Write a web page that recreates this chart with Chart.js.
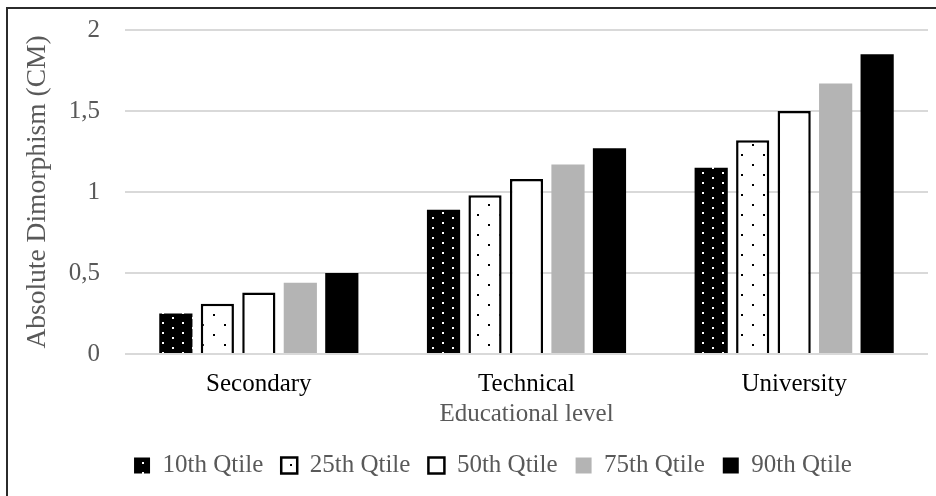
<!DOCTYPE html>
<html>
<head>
<meta charset="utf-8">
<script src="https://cdn.jsdelivr.net/npm/chart.js@4.4.1/dist/chart.umd.min.js"></script>
<style>
  html, body { margin: 0; padding: 0; background: #fff; }
  #wrap { position: relative; width: 936px; height: 496px; overflow: hidden; }
  #frame { position: absolute; left: 6px; top: 7px; width: 960px; height: 520px;
           border-top: 2px solid #2b2b2b; border-left: 2px solid #2b2b2b; }
  canvas { position: absolute; left: 0; top: 0; }
  #probe { position: absolute; left: -999px; font-family: 'Liberation Serif'; font-size: 25px; }
</style>
</head>
<body>
<div id="wrap">
  <div id="frame"></div>
  <canvas id="myChart" width="936" height="496"></canvas>
</div>
<span id="probe">Secondary</span>
<script>
// chart data
const categories = ['Secondary', 'Technical', 'University'];
const seriesNames = ['10th Qtile', '25th Qtile', '50th Qtile', '75th Qtile', '90th Qtile'];
const p10 = [0.25, 0.89, 1.15];
const p25 = [0.31, 0.98, 1.32];
const p50 = [0.38, 1.08, 1.50];
const p75 = [0.44, 1.17, 1.67];
const p90 = [0.50, 1.27, 1.85];
const yTickLabels = ['0', '0,5', '1', '1,5', '2'];

const serif = "'Liberation Serif', 'Times New Roman', serif";

// dotted fills like the Excel pattern fills
function dotPattern(bg, dot, w, h, dots) {
    const c = document.createElement('canvas');
    c.width = w;
    c.height = h;
    const g = c.getContext('2d');
    g.fillStyle = bg;
    g.fillRect(0, 0, w, h);
    g.fillStyle = dot;
    dots.forEach(d => g.fillRect(d[0], d[1], 2, 2));
    return g.createPattern(c, 'repeat');
}

// legend sits a little right of centre in the original
const shiftLegend = {
    id: 'shiftLegend',
    afterLayout(chart) {
        chart.legend.left += 19;
        chart.legend.right += 19;
    }
};

function drawChart() {
    const ctx = document.getElementById('myChart').getContext('2d');
    const darkDots = dotPattern('#000000', '#ffffff', 20, 10, [[2, 2], [12, 7]]);
    const lightDots = dotPattern('#ffffff', '#000000', 22, 20, [[4, 4], [15, 14]]);

    new Chart(ctx, {
        type: 'bar',
        data: {
            labels: categories,
            datasets: [
                { label: seriesNames[0], data: p10, backgroundColor: darkDots, borderColor: '#000000', borderWidth: 0 },
                { label: seriesNames[1], data: p25, backgroundColor: lightDots, borderColor: '#000000', borderWidth: 2.5 },
                { label: seriesNames[2], data: p50, backgroundColor: '#ffffff', borderColor: '#000000', borderWidth: 2.5 },
                { label: seriesNames[3], data: p75, backgroundColor: '#b4b4b4', borderColor: '#b4b4b4', borderWidth: 0 },
                { label: seriesNames[4], data: p90, backgroundColor: '#000000', borderColor: '#000000', borderWidth: 0 }
            ]
        },
        plugins: [shiftLegend],
        options: {
            responsive: false,
            animation: false,
            layout: { padding: { left: 20, right: 8, top: 30, bottom: 8 } },
            datasets: { bar: { categoryPercentage: 0.775, barPercentage: 0.8 } },
            plugins: {
                tooltip: { enabled: false },
                legend: {
                    position: 'bottom',
                    labels: {
                        boxWidth: 16,
                        boxHeight: 16,
                        padding: 18,
                        color: '#595959',
                        font: { family: serif, size: 25 }
                    }
                }
            },
            scales: {
                x: {
                    grid: { display: false },
                    border: { display: false },
                    ticks: { color: '#000000', padding: 7, font: { family: serif, size: 25 } },
                    title: {
                        display: true,
                        text: 'Educational level',
                        color: '#595959',
                        padding: { top: 0, bottom: 6 },
                        font: { family: serif, size: 25 }
                    },
                    afterFit: function(scale) { scale.height = 81; }
                },
                y: {
                    min: 0,
                    max: 2,
                    grid: { color: '#d9d9d9', lineWidth: 2, drawTicks: false },
                    border: { display: false },
                    ticks: {
                        stepSize: 0.5,
                        padding: 25,
                        color: '#595959',
                        font: { family: serif, size: 25 },
                        callback: function(value, index) { return yTickLabels[index]; }
                    },
                    title: {
                        display: true,
                        text: 'Absolute Dimorphism (CM)',
                        color: '#595959',
                        padding: { top: 1, bottom: 0 },
                        font: { family: serif, size: 27.5 }
                    },
                    afterFit: function(scale) {
                        scale.width = 105;
                        scale.paddingTop = 0;
                        scale.paddingBottom = 0;
                    }
                }
            }
        }
    });
}

if (document.fonts && document.fonts.load) {
    document.fonts.load("25px 'Liberation Serif'").then(drawChart, drawChart);
} else {
    drawChart();
}
</script>
</body>
</html>
